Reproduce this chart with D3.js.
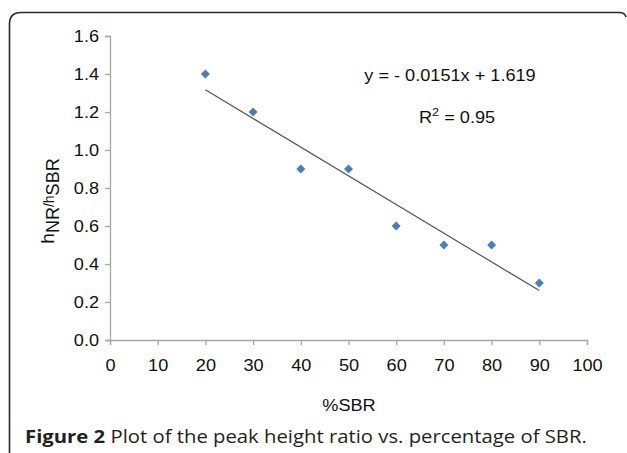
<!DOCTYPE html>
<html>
<head>
<meta charset="utf-8">
<script src="https://cdn.jsdelivr.net/npm/d3@7"></script>
<style>
  body { margin: 0; background: #fff; }
  svg { display: block; }
</style>
</head>
<body>
<svg id="chart" width="627" height="453"></svg>
<script>
// data
const sbrPercent = [20, 30, 40, 50, 60, 70, 80, 90];
const peakRatio = [1.4, 1.2, 0.9, 0.9, 0.6, 0.5, 0.5, 0.3];
const xTicks = [0, 10, 20, 30, 40, 50, 60, 70, 80, 90, 100];
const yTicks = [0, 0.2, 0.4, 0.6, 0.8, 1.0, 1.2, 1.4, 1.6];
const fitSlope = -0.0151;
const fitIntercept = 1.619;

const svg = d3.select("#chart");

// frame (open at bottom and right, like the cropped figure box)
svg.append("path")
  .attr("d", "M9.5,453 L9.5,24 Q9.5,12.5 21,12.5 L619,12.5 Q625,12.5 626,17")
  .attr("fill", "none")
  .attr("stroke", "#2a2a2a")
  .attr("stroke-width", 1.6);

// scales
const x = d3.scaleLinear().domain([0, 100]).range([110, 587]);
const y = d3.scaleLinear().domain([0, 1.6]).range([340, 36]);

const axisColor = "#a6a6a6";
const tickFont = "Liberation Sans, Arial, sans-serif";
const stretch = "scale(1.1,1)"; // the source text is a bit wide

// x axis
const gx = svg.append("g")
  .attr("transform", "translate(0,340)")
  .call(d3.axisBottom(x).tickValues(xTicks).tickSize(5).tickPadding(14).tickFormat(d3.format("d")));
gx.select(".domain").attr("stroke", axisColor).attr("stroke-width", 1.3);
gx.selectAll(".tick line").attr("stroke", axisColor).attr("stroke-width", 1.3);
gx.selectAll(".tick text").attr("fill", "#111").attr("transform", stretch)
  .style("font-family", tickFont).style("font-size", "16.5px");

// y axis
const gy = svg.append("g")
  .attr("transform", "translate(110,0)")
  .call(d3.axisLeft(y).tickValues(yTicks).tickSize(5).tickPadding(5).tickFormat(d3.format(".1f")));
gy.select(".domain").attr("stroke", axisColor).attr("stroke-width", 1.3);
gy.selectAll(".tick line").attr("stroke", axisColor).attr("stroke-width", 1.3);
gy.selectAll(".tick text").attr("fill", "#111").attr("transform", stretch)
  .style("font-family", tickFont).style("font-size", "16.5px");

// trend line over the data range
const xr = d3.extent(sbrPercent);
svg.append("line")
  .attr("x1", x(xr[0])).attr("y1", y(fitSlope * xr[0] + fitIntercept))
  .attr("x2", x(xr[1])).attr("y2", y(fitSlope * xr[1] + fitIntercept))
  .attr("stroke", "#555")
  .attr("stroke-width", 1.2);

// points
svg.append("g").selectAll("path")
  .data(sbrPercent.map((d, i) => [d, peakRatio[i]]))
  .join("path")
  .attr("d", "M0,-4.5 L4.5,0 L0,4.5 L-4.5,0 Z")
  .attr("transform", d => `translate(${x(d[0])},${y(d[1])})`)
  .attr("fill", "#4a7ebb");

// equation text
svg.append("text")
  .attr("transform", "translate(450,81) " + stretch)
  .attr("text-anchor", "middle")
  .style("font-family", tickFont).style("font-size", "16.5px").attr("fill", "#111")
  .text("y = - 0.0151x + 1.619");

const r2 = svg.append("text")
  .attr("transform", "translate(419,123) " + stretch)
  .style("font-family", tickFont).style("font-size", "16.5px").attr("fill", "#111");
r2.append("tspan").text("R");
r2.append("tspan").attr("dy", -7).style("font-size", "11.5px").text("2");
r2.append("tspan").attr("dy", 7).text(" = 0.95");

// x label
svg.append("text")
  .attr("transform", "translate(349,411) " + stretch)
  .attr("text-anchor", "middle")
  .style("font-family", tickFont).style("font-size", "16.5px").attr("fill", "#111")
  .text("%SBR");

// y label
const yl = svg.append("text")
  .attr("transform", "translate(54,201) rotate(-90)")
  .attr("text-anchor", "middle")
  .style("font-family", tickFont).style("font-size", "19px").attr("fill", "#111");
yl.append("tspan").text("h");
yl.append("tspan").attr("dy", 5).style("font-size", "18px").text("NR");
yl.append("tspan").attr("dy", -5).style("font-size", "14px").text("/h");
yl.append("tspan").attr("dy", 5).style("font-size", "18px").text("SBR");

// caption, stretched to the width it has in the source
const cap = svg.append("text")
  .style("font-family", "Open Sans, sans-serif").style("font-size", "17.5px").attr("fill", "#231f20");
cap.append("tspan").style("font-weight", "bold").text("Figure 2");
cap.append("tspan").text(" Plot of the peak height ratio vs. percentage of SBR.");
const capW = cap.node().getComputedTextLength();
cap.attr("transform", `translate(25,443) scale(${562 / capW},1)`);
</script>
</body>
</html>
